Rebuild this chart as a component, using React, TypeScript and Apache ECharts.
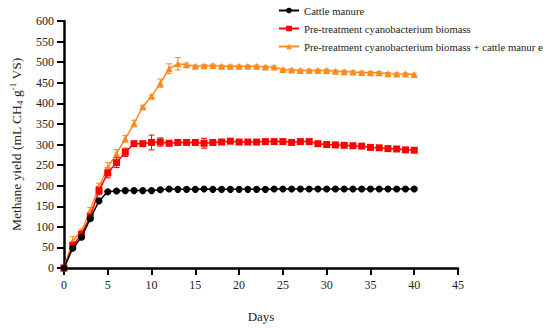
import React, { useEffect, useRef } from "react";
import * as echarts from "echarts";

const days = [0,1,2,3,4,5,6,7,8,9,10,11,12,13,14,15,16,17,18,19,20,21,22,23,24,25,26,27,28,29,30,31,32,33,34,35,36,37,38,39,40];

const cattle = [0,48,75,120,163,185,187,188,188,188,188,190,192,191,191,191,192,191,191,191,191,191,191,191,192,192,192,192,192,192,192,192,192,192,192,192,192,192,192,192,192];
const cattleErr = [0,3,4,4,4,3,2,2,2,2,2,2,2,2,2,2,2,2,2,2,2,2,2,2,2,2,2,2,2,2,2,2,2,2,2,2,2,2,2,2,2];

const cyano = [0,55,82,125,188,231,256,281,302,302,305,306,303,305,305,305,303,305,306,308,306,306,306,307,307,307,305,307,307,302,300,299,298,297,296,293,292,290,289,287,286];
const cyanoErr = [0,5,4,5,10,12,12,10,5,3,18,10,3,3,5,3,12,3,3,3,3,3,3,3,3,3,3,3,3,3,3,3,3,3,3,3,3,3,3,3,3];

const mix = [0,66,89,141,198,244,278,314,351,392,417,449,484,496,494,490,491,492,490,490,490,490,490,488,488,482,481,480,480,480,480,478,477,476,475,474,474,472,471,471,470];
const mixErr = [0,10,5,6,8,12,10,8,8,3,3,10,12,15,4,3,3,3,3,3,3,3,3,3,3,3,3,3,3,3,3,3,3,3,3,3,3,3,3,3,3];

const seriesNames = [
  "Cattle manure",
  "Pre-treatment cyanobacterium biomass",
  "Pre-treatment cyanobacterium biomass + cattle manur e",
];

const BLACK = "#000000";
const RED = "#ff0000";
const ORANGE = "#ff8a1c";
const FONT = "Liberation Serif";

function errSeries(vals: number[], errs: number[], color: string) {
  return {
    type: "custom",
    silent: true,
    z: 1,
    data: days.map((d, i) => [d, vals[i], errs[i]]),
    renderItem: (params: any, api: any) => {
      const x = api.value(0);
      const y = api.value(1);
      const e = api.value(2);
      if (!e) return null;
      const top = api.coord([x, y + e]);
      const bot = api.coord([x, y - e]);
      const w = 3;
      const st = { stroke: color, lineWidth: 1 };
      return {
        type: "group",
        children: [
          { type: "line", shape: { x1: top[0], y1: top[1], x2: bot[0], y2: bot[1] }, style: st },
          { type: "line", shape: { x1: top[0] - w, y1: top[1], x2: top[0] + w, y2: top[1] }, style: st },
          { type: "line", shape: { x1: bot[0] - w, y1: bot[1], x2: bot[0] + w, y2: bot[1] }, style: st },
        ],
      };
    },
  };
}

function lineSeries(name: string, vals: number[], color: string, symbol: string, size: number, z: number) {
  return {
    name,
    type: "line",
    z,
    data: days.map((d, i) => [d, vals[i]]),
    symbol,
    symbolSize: size,
    showSymbol: true,
    itemStyle: { color },
    lineStyle: { color, width: 1.5 },
  };
}

export default function App() {
  const ref = useRef<HTMLDivElement>(null);
  useEffect(() => {
    document.body.style.margin = "0";
    if (!ref.current) return;
    const chart = echarts.init(ref.current, null, { renderer: "svg" });
    chart.setOption({
      animation: false,
      backgroundColor: "#ffffff",
      textStyle: { fontFamily: FONT },
      grid: { left: 56, right: 92, top: 21, bottom: 54 },
      legend: {
        orient: "vertical",
        left: 273,
        top: 0,
        itemWidth: 20,
        itemHeight: 7,
        itemGap: 7,
        data: seriesNames,
        textStyle: { fontFamily: FONT, fontSize: 10.7, color: "#222" },
      },
      xAxis: {
        type: "value",
        min: 0,
        max: 45,
        interval: 5,
        name: "Days",
        nameLocation: "middle",
        nameGap: 42,
        nameTextStyle: { fontFamily: FONT, fontSize: 13, color: "#222" },
        splitLine: { show: false },
        axisLine: { show: true, lineStyle: { color: "#000", width: 2.5 } },
        axisTick: { show: true, length: 7, lineStyle: { color: "#000", width: 2 } },
        axisLabel: { fontFamily: FONT, fontSize: 12, color: "#222", margin: 11 },
      },
      yAxis: {
        type: "value",
        min: 0,
        max: 600,
        interval: 50,
        name: "Methane yield (mL CH{sub|4} g{sup|-1} VS)",
        nameLocation: "middle",
        nameGap: 40,
        nameTextStyle: {
          fontFamily: FONT,
          fontSize: 13.5,
          color: "#222",
          rich: {
            sub: { fontFamily: FONT, fontSize: 9, color: "#222", padding: [7, 0, 0, 0] },
            sup: { fontFamily: FONT, fontSize: 9, color: "#222", padding: [0, 0, 7, 0] },
          },
        },
        splitLine: { show: false },
        axisLine: { show: true, lineStyle: { color: "#000", width: 2.5 } },
        axisTick: { show: true, length: 7, lineStyle: { color: "#000", width: 2 } },
        axisLabel: { fontFamily: FONT, fontSize: 12, color: "#222", margin: 10 },
      },
      series: [
        errSeries(mix, mixErr, ORANGE),
        errSeries(cyano, cyanoErr, RED),
        errSeries(cattle, cattleErr, BLACK),
        lineSeries(seriesNames[2], mix, ORANGE, "triangle", 7, 2),
        lineSeries(seriesNames[1], cyano, RED, "rect", 7, 3),
        lineSeries(seriesNames[0], cattle, BLACK, "circle", 7, 4),
      ],
    });
    return () => chart.dispose();
  }, []);
  return <div ref={ref} style={{ width: 550, height: 328 }} />;
}
